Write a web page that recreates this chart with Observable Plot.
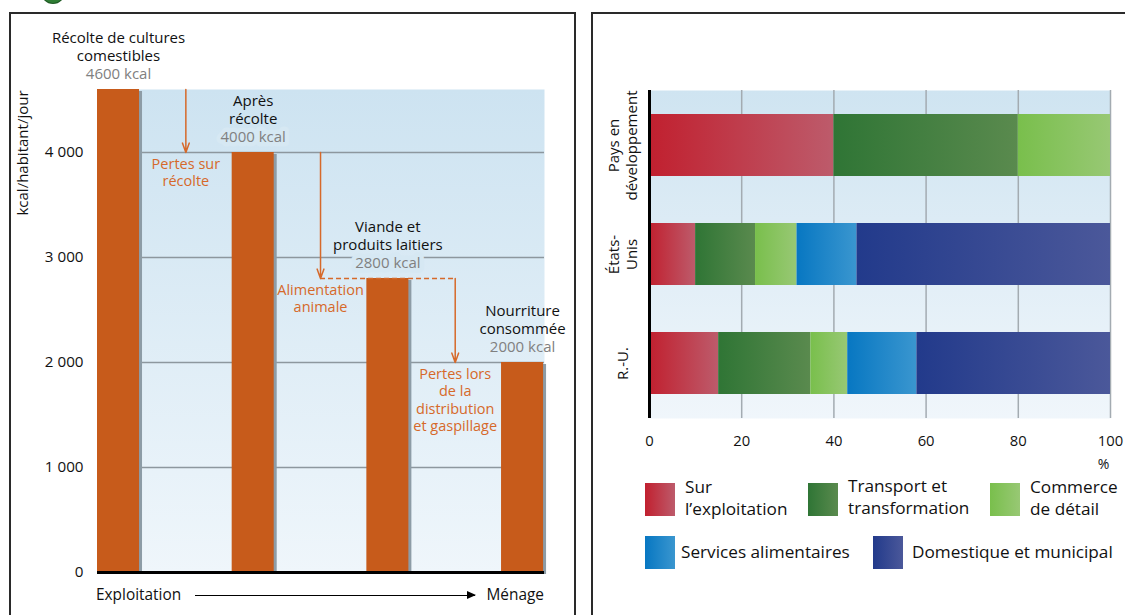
<!DOCTYPE html>
<html lang="fr">
<head>
<meta charset="utf-8">
<script src="https://cdn.jsdelivr.net/npm/d3@7"></script>
<script src="https://cdn.jsdelivr.net/npm/@observablehq/plot@0.6"></script>
<style>
  html,body{margin:0;padding:0;}
  body{width:1125px;height:615px;overflow:hidden;position:relative;background:#fff;font-family:"Open Sans",Lato,sans-serif;color:#111;}
  .panel{position:absolute;border:2px solid #2a2a2a;box-sizing:border-box;}
  #pl{left:9px;top:12px;width:567px;height:640px;}
  #pr{left:591px;top:12px;width:600px;height:640px;}
  #c1,#c2{position:absolute;top:0;}
  #c1{left:0;} #c2{left:580px;}
  #logo{position:absolute;left:42px;top:-19px;width:22px;height:22px;border-radius:50%;background:#2f7d34;box-shadow:0 0 0 1px #1f5a24;}
  #ylab{position:absolute;left:22px;top:153px;transform:translate(-50%,-50%) rotate(-90deg);font-size:15px;white-space:nowrap;}
  #flow{position:absolute;left:96px;top:585px;width:448px;display:flex;align-items:center;font-size:15.4px;line-height:20px;}
  #flow .arr{flex:1;margin:0 12px 0 14px;height:1px;background:#000;position:relative;}
  #flow .arr:after{content:"";position:absolute;right:-1px;top:-4px;border-left:9px solid #000;border-top:4.5px solid transparent;border-bottom:4.5px solid transparent;}
  .sw{position:absolute;width:30px;height:33px;}
  .lg{position:absolute;font-size:17.2px;line-height:22px;white-space:pre;color:#111;}
</style>
</head>
<body>
<div id="logo"></div>
<div class="panel" id="pl"></div>
<div class="panel" id="pr"></div>
<svg width="0" height="0" style="position:absolute;left:0;top:0" id="defsvg"><defs id="defs"></defs></svg>
<div id="c1"></div>
<div id="c2"></div>
<div id="ylab"></div>
<div id="flow"><span id="fromLab"></span><span class="arr"></span><span id="toLab"></span></div>
<div id="legend"></div>
<script>
// ---------- DATA ----------
const stages = ["Récolte de cultures\ncomestibles", "Après\nrécolte", "Viande et\nproduits laitiers", "Nourriture\nconsommée"];
const kcal = [4600, 4000, 2800, 2000];
const losses = ["Pertes sur\nrécolte", "Alimentation\nanimale", "Pertes lors\nde la\ndistribution\net gaspillage"];
const yTicks = [0, 1000, 2000, 3000, 4000];
const flowLabels = ["Exploitation", "Ménage"];
const yTitle = "kcal/habitant/jour";

const countries = ["Pays en\ndéveloppement", "États-\nUnis", "R.-U."];
const categories = ["Sur\nl’exploitation", "Transport et\ntransformation", "Commerce\nde détail", "Services alimentaires", "Domestique et municipal"];
const devValues = [40, 40, 20, 0, 0];
const usValues = [10, 13, 9, 13, 55];
const ukValues = [15, 20, 8, 15, 42];
const xTicks = [0, 20, 40, 60, 80, 100];

// ---------- STYLE ----------
const FONT = "'Open Sans', Lato, sans-serif";
const catColors = [["#c1202f", "#bd5b6b"], ["#2f7535", "#5a8a4e"], ["#79bf4c", "#98c874"], ["#0777c2", "#3a96cf"], ["#223a8b", "#4b589a"]];
const barColor = "#c75b1b";
const orange = "#d6692a";
const grey = "#808080";

// gradients
const defs = document.getElementById("defs");
let dh = "";
catColors.forEach((c, i) => {
  dh += `<linearGradient id="g${i}" x1="0" y1="0" x2="1" y2="0"><stop offset="0" stop-color="${c[0]}"/><stop offset="1" stop-color="${c[1]}"/></linearGradient>`;
});
dh += `<linearGradient id="bgL" x1="0" y1="0" x2="0" y2="1"><stop offset="0" stop-color="#cde3f1"/><stop offset="1" stop-color="#eff6fb"/></linearGradient>`;
dh += `<linearGradient id="bgR" x1="0" y1="0" x2="0" y2="1"><stop offset="0" stop-color="#cfe4f1"/><stop offset="1" stop-color="#f0f6fb"/></linearGradient>`;
defs.innerHTML = dh;

const fmt = d => d3.format(",")(d).replace(/,/g, " ");

// ---------- LEFT CHART ----------
const idx = d3.range(kcal.length);
const gaps = d3.range(kcal.length - 1);
const half = 0.156;
const FS = 15;
const LH = 1.2;
const left = Plot.plot({
  width: 580, height: 615,
  marginLeft: 97, marginRight: 36, marginTop: 89, marginBottom: 43,
  x: {domain: [-half, kcal.length - 1 + 0.163], axis: null},
  y: {domain: [0, kcal[0]], axis: null},
  style: {fontFamily: FONT, fontSize: FS + "px", color: "#111", background: "transparent"},
  marks: [
    Plot.frame({fill: "url(#bgL)", stroke: null}),
    Plot.ruleY(yTicks.filter(d => d > 0), {stroke: "#8d979e", strokeWidth: 1.5}),
    Plot.axisY({ticks: yTicks, tickSize: 0, tickPadding: 14, tickFormat: fmt, fontSize: 15.2, label: null}),
    Plot.rectY(idx, {x1: i => i - half, x2: i => i + half, y1: 0, y2: i => kcal[i], fill: "#8d9ca6", dx: 3, dy: 2}),
    Plot.rectY(idx, {x1: i => i - half, x2: i => i + half, y1: 0, y2: i => kcal[i], fill: barColor}),
    Plot.ruleY([0], {stroke: "#000", strokeWidth: 3}),
    Plot.ruleY([2], {y: i => kcal[i], x1: i => i - 0.5, x2: i => i + 0.5, stroke: orange, strokeWidth: 1.5, strokeDasharray: "5,3"}),
    Plot.arrow(gaps, {x1: i => i + 0.5, x2: i => i + 0.5, y1: i => kcal[i], y2: i => kcal[i + 1], stroke: orange, strokeWidth: 1.5, headLength: 10, headAngle: 40}),
    Plot.text(gaps, {x: i => i + 0.5, y: i => kcal[i + 1], text: i => losses[i], fill: orange, lineAnchor: "top", dy: 4, lineHeight: 1.2, fontSize: 14.5}),
    Plot.text(idx, {x: i => i, y: i => kcal[i], text: i => stages[i], fill: "#111", lineAnchor: "bottom", dy: -29, lineHeight: LH, fontSize: FS}),
    Plot.text(idx.filter(i => i === 0 || i === kcal.length - 1), {x: i => i, y: i => kcal[i], text: i => kcal[i] + " kcal", fill: grey, lineAnchor: "bottom", dy: -11, fontSize: FS}),
    Plot.text(idx.filter(i => i > 0 && i < kcal.length - 1), {x: i => i, y: i => kcal[i], text: i => kcal[i] + " kcal", fill: grey, stroke: "#d6e8f3", strokeWidth: 9, paintOrder: "stroke", lineAnchor: "bottom", dy: -11, fontSize: FS})
  ]
});
document.getElementById("c1").appendChild(left);
document.getElementById("fromLab").textContent = flowLabels[0];
document.getElementById("toLab").textContent = flowLabels[1];
document.getElementById("ylab").textContent = yTitle;

// ---------- RIGHT CHART ----------
const series = [devValues, usValues, ukValues];
const rows = [];
countries.forEach((c, ci) => series[ci].forEach((v, k) => { if (v > 0) rows.push({country: c, cat: k, value: v}); }));

const right = Plot.plot({
  width: 545, height: 615,
  marginLeft: 69, marginRight: 15, marginTop: 90, marginBottom: 197,
  x: {domain: [0, 100], axis: null},
  y: {domain: countries, paddingInner: 0.431, paddingOuter: 0.22, axis: null},
  color: {type: "identity"},
  style: {fontFamily: FONT, fontSize: "14.5px", color: "#111", background: "transparent"},
  marks: [
    Plot.frame({fill: "url(#bgR)", stroke: null}),
    Plot.ruleX(xTicks.filter(d => d > 0), {stroke: "#a3abb1", strokeWidth: 1.5}),
    Plot.barX(rows, Plot.stackX({y: "country", x: "value", z: "cat", fill: d => `url(#g${d.cat})`})),
    Plot.ruleX([0], {stroke: "#000", strokeWidth: 3}),
    Plot.axisX({ticks: xTicks, tickSize: 0, tickPadding: 17, fontSize: 14.8, anchor: "bottom", label: null}),
    Plot.text(countries, {y: d => d, text: d => d, frameAnchor: "left", textAnchor: "middle", dx: -27, rotate: -90, lineAnchor: "middle", lineHeight: 1.2, fontSize: 15}),
    Plot.text(["%"], {x: 100, frameAnchor: "bottom", dy: 50, dx: -7, fontSize: 14})
  ]
});
document.getElementById("c2").appendChild(right);

// ---------- LEGEND ----------
const legendPos = [[645, 483, 685, 476], [808, 483, 848, 475], [990, 483, 1030, 476], [645, 536, 681, 541], [873, 536, 912, 541]];
const lg = document.getElementById("legend");
categories.forEach((c, i) => {
  const [sx, sy, tx, ty] = legendPos[i];
  const sw = document.createElement("div");
  sw.className = "sw";
  sw.style.left = sx + "px"; sw.style.top = sy + "px";
  sw.style.background = `linear-gradient(to right, ${catColors[i][0]}, ${catColors[i][1]})`;
  lg.appendChild(sw);
  const t = document.createElement("div");
  t.className = "lg";
  t.style.left = tx + "px"; t.style.top = ty + "px";
  t.textContent = c;
  lg.appendChild(t);
});
</script>
</body>
</html>
